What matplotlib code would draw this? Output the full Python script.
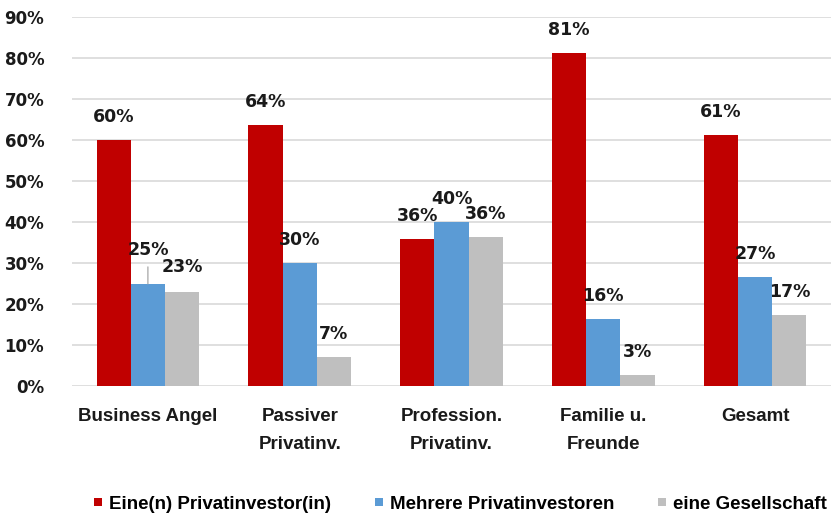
import matplotlib
matplotlib.use("Agg")
import matplotlib.pyplot as plt
from matplotlib.lines import Line2D
import numpy as np

categories = ["Business Angel", "Passiver\nPrivatinv.", "Profession.\nPrivatinv.", "Familie u.\nFreunde", "Gesamt"]
series_names = ["Eine(n) Privatinvestor(in)", "Mehrere Privatinvestoren", "eine Gesellschaft"]
eine = [60.0, 63.7, 35.8, 81.3, 61.1]
mehrere = [24.9, 30.0, 39.9, 16.4, 26.7]
gesellschaft = [23.0, 7.1, 36.4, 2.7, 17.4]
yticks = [0, 10, 20, 30, 40, 50, 60, 70, 80, 90]
colors = ["#C00000", "#5B9BD5", "#BFBFBF"]

W, H = 832, 518
fig = plt.figure(figsize=(W / 100, H / 100), dpi=100)
ax = fig.add_axes([72 / W, 1 - 386 / H, (831 - 72) / W, (386 - 17) / H])

narrow = ["Liberation Sans", "DejaVu Sans"]

x = np.arange(len(categories))
bw = 0.225
all_series = [eine, mehrere, gesellschaft]
for i, (vals, col) in enumerate(zip(all_series, colors)):
    xs = x + (i - 1) * bw
    ax.bar(xs, vals, width=bw, color=col, zorder=3, linewidth=0)
    for j, (xx, v) in enumerate(zip(xs, vals)):
        off = 23
        if i == 1 and j == 0:
            off = 34
            ax.annotate("", xy=(xx, v), xytext=(0, 17), textcoords="offset pixels",
                        arrowprops=dict(arrowstyle="-", color="#A6A6A6", lw=0.9,
                                        shrinkA=0, shrinkB=0), zorder=4)
        if i == 2 and j == 0:
            off = 25
        ax.annotate(f"{round(v):d}%", xy=(xx, v), xytext=(0, off), textcoords="offset pixels",
                    ha="center", va="center", fontsize=12.5, fontweight="bold",
                    family="DejaVu Sans", color="#1a1a1a", zorder=5)

ax.set_xlim(-0.5, len(categories) - 0.5)
ax.set_ylim(0, 90)
ax.set_yticks(yticks)
ax.set_yticklabels([f"{t}%" for t in yticks], fontsize=12, fontweight="bold",
                   family="DejaVu Sans", color="#1a1a1a")
ax.set_xticks(x)
ax.set_xticklabels(categories, fontsize=13.5, fontweight="bold", family=narrow,
                   color="#1a1a1a", linespacing=1.8, va="top")
ax.tick_params(axis="y", length=0, pad=20)
ax.tick_params(axis="x", length=0, pad=16)
for s in ax.spines.values():
    s.set_visible(False)
ax.yaxis.grid(True, color="#D9D9D9", linewidth=1.2, zorder=0)
ax.set_axisbelow(True)

handles = [Line2D([0], [0], marker="s", linestyle="none", markersize=6,
                  markerfacecolor=c, markeredgewidth=0) for c in colors]
fig.legend(handles, series_names, loc="center", bbox_to_anchor=(460 / W, 1 - 504 / H),
           ncol=3, frameon=False, handlelength=0.5, handletextpad=0.35, columnspacing=2.3,
           prop=dict(family=narrow, weight="bold", size=13.5))

fig.savefig("out.png", dpi=100)
